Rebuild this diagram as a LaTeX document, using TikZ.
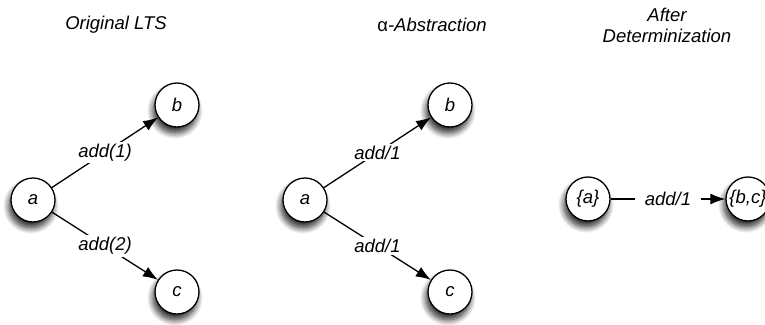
\documentclass[tikz,border=0pt]{standalone}
\usepackage{fontspec}
\setmainfont{Liberation Sans}
\usetikzlibrary{arrows.meta,shadows.blur}

\begin{document}
\begin{tikzpicture}[x=1pt,y=-1pt,
    state/.style={circle,draw,fill=white,line width=1.3pt,minimum size=44pt,inner sep=0pt,
      blur shadow={shadow xshift=-2pt,shadow yshift=-6pt,shadow blur radius=6pt,
        shadow blur steps=10,shadow opacity=85}},
    trans/.style={line width=1.3pt,-{Latex[length=15pt,width=11pt]}},
    lbl/.style={fill=white,inner sep=2pt}]
    \tikzstyle{every node}+=[font=\fontsize{18.5}{21}\selectfont\itshape]
    \useasboundingbox (0,0) rectangle (765,324);
    % titles
    \node (t1) at (116,25) {Original LTS};
    \node (t2) at (432,25) {{\upshape α}-Abstraction};
    \node[align=center] (t3) at (667,25) {After\\Determinization};
    % original LTS
    \node[state] (a1) at (33,200) {a};
    \node[state] (b1) at (177,105) {b};
    \node[state] (c1) at (177,292) {c};
    \draw[trans] (a1) -- node[lbl] {add(1)} (b1);
    \draw[trans] (a1) -- node[lbl] {add(2)} (c1);
    % abstraction
    \node[state] (a2) at (305,200) {a};
    \node[state] (b2) at (450,105) {b};
    \node[state] (c2) at (450,292) {c};
    \draw[trans] (a2) -- node[lbl] {add/1} (b2);
    \draw[trans] (a2) -- node[lbl] {add/1} (c2);
    % determinization
    \node[state] (a3) at (588,199) {\{a\}};
    \node[state] (bc3) at (748,199) {\{b,c\}};
    \draw[trans] (a3) -- node[lbl,inner xsep=10pt] {add/1} (bc3);
\end{tikzpicture}
\end{document}
